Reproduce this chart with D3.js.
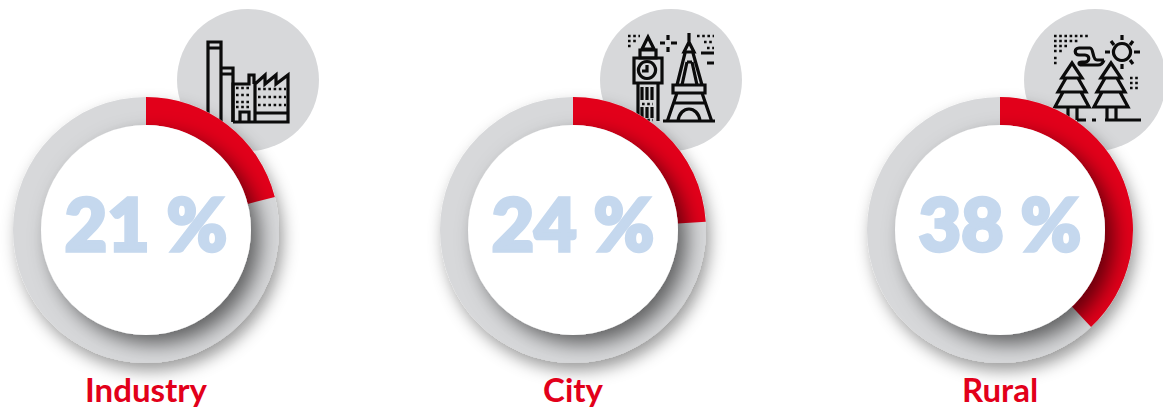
<!doctype html>
<html>
<head>
<meta charset="utf-8">
<title>Industry City Rural</title>
<script src="https://d3js.org/d3.v7.min.js"></script>
<style>
  html, body { margin: 0; padding: 0; background: #fff; }
  svg { display: block; }
  text { font-family: Lato, "Open Sans", sans-serif; text-anchor: middle; }
  .pct { font-size: 73px; font-weight: 900; fill: #c5d8ee; stroke: #c5d8ee; stroke-width: 3.5px; stroke-linejoin: miter; }
  .cat { font-size: 33px; font-weight: 700; fill: #e2001a; }
  .icon path { fill: none; stroke: #0b0b0b; stroke-width: 3.2; stroke-linejoin: miter; }
  .icon .dots { stroke-width: 2.6; stroke-dasharray: 2.6 2.6; }
</style>
</head>
<body>
<script>
var categories = ["Industry", "City", "Rural"];
var percentages = [21, 24, 38];
var iconOffsets = [102, 98, 95];

// icon artwork, traced in page coordinates
var iconPaths = [
  [
    "M208 122V42H221V122M208 48H221",
    "M221 68H233V122M221 74H233",
    "M233 122V84H249V75H254V84M233 122H288V75L276 84V75L265 84V75L255 84V122",
    "M255 113H288",
    "M240 122V112H249V122"
  ],
  [
    "M648 37L642 49H654ZM640 50H656V58H640Z",
    "M634 58H662V83H634ZM638 83V121M658 83V121",
    "M647 61.5a8.5 8.5 0 1 0 .01 0M647 65V71H642",
    "M642 87V100M647 87V100M652 87V100M642 107V118M647 107V118M652 107V118",
    "M689 33V42M684 52L689 42L694 52ZM684 52H694M685 53L677 85M693 53L702 85M687 62H692M687 62L682 85M692 62L697 85",
    "M673 85H705V93H673ZM677 93L667 122M702 93L712 122M663 121H715M678 121C680 105 698 105 700 121M673 103H705",
    "M660 43H665M671 43H677M668 35V40M668 47V52M701 53H714M707 63H714"
  ],
  [
    "M1072 63L1082 78H1078L1086 92H1081L1089 107H1055L1063 92H1058L1066 78H1062ZM1066 78H1078M1063 92H1081M1068 107V120M1077 107V120",
    "M1111 63L1121 78H1117L1125 92H1120L1128 107H1094L1102 92H1097L1105 78H1101ZM1105 78H1117M1102 92H1120M1107 107V120M1116 107V120",
    "M1077 120H1086M1092 120H1096M1105 120H1141",
    "M1122 43.5a8.5 8.5 0 1 0 .01 0M1122 35V40M1122 64V69M1105 52H1110M1134 52H1140M1111 41L1114 45M1133 41L1130 45M1133 64L1130 60",
    "M1104 60H1097C1092 60 1094 48 1090 48H1079C1074 48 1074 55 1079 55H1085C1090 55 1090 62 1085 62H1082C1078 62 1078 65 1082 65H1098C1101 65 1103 63 1104 60"
  ]
];
var iconDots = [
  ["M236 88H251M236 95H251M236 102H251M236 107H251", "M258 89H286M258 97H286M258 105H286"],
  ["M628 36H640M628 41H637M628 46H631", "M697 36H714M704 42H714M707 48H714", "M642 104H653M642 120H653"],
  ["M1054 36H1089M1054 41H1078M1054 46H1068M1054 51H1064M1054 58H1057M1054 63H1057", "M1130 78H1138M1130 83H1138M1130 88H1138"]
];

var width = 1163, height = 410;
var cy = 230, outerR = 133, innerR = 105, iconCy = 80, iconR = 71;

var x = d3.scalePoint().domain(categories).range([146, 1000]);
var angle = d3.scaleLinear().domain([0, 100]).range([0, 2 * Math.PI]);
var arc = d3.arc().innerRadius(innerR).outerRadius(outerR).startAngle(0);

var svg = d3.select("body").append("svg")
  .attr("width", width)
  .attr("height", height);

var defs = svg.append("defs");

var ringShadow = defs.append("filter").attr("id", "ringShadow")
  .attr("x", "-30%").attr("y", "-30%").attr("width", "160%").attr("height", "160%");
ringShadow.append("feDropShadow")
  .attr("dx", 4).attr("dy", 8).attr("stdDeviation", 8)
  .attr("flood-color", "#000").attr("flood-opacity", 0.38);

var discShadow = defs.append("filter").attr("id", "discShadow")
  .attr("x", "-30%").attr("y", "-30%").attr("width", "160%").attr("height", "160%");
discShadow.append("feDropShadow")
  .attr("dx", 9).attr("dy", 9).attr("stdDeviation", 10)
  .attr("flood-color", "#000").attr("flood-opacity", 0.55);

categories.forEach(function(name, i) {
  var cx = x(name);

  svg.append("circle")
    .attr("cx", cx + iconOffsets[i])
    .attr("cy", iconCy)
    .attr("r", iconR)
    .attr("fill", "#d7d8da");

  var icon = svg.append("g").attr("class", "icon");
  iconPaths[i].forEach(function(d) { icon.append("path").attr("d", d); });
  iconDots[i].forEach(function(d) { icon.append("path").attr("class", "dots").attr("d", d); });

  svg.append("circle")
    .attr("cx", cx)
    .attr("cy", cy)
    .attr("r", outerR)
    .attr("fill", "#d7d8da")
    .attr("filter", "url(#ringShadow)");

  svg.append("path")
    .attr("transform", "translate(" + cx + "," + cy + ")")
    .attr("d", arc({ endAngle: angle(percentages[i]) }))
    .attr("fill", "#e2001a");

  svg.append("circle")
    .attr("cx", cx)
    .attr("cy", cy)
    .attr("r", innerR)
    .attr("fill", "#fff")
    .attr("filter", "url(#discShadow)");

  svg.append("text")
    .attr("class", "pct")
    .attr("x", cx)
    .attr("y", 251)
    .text(percentages[i] + " %");

  svg.append("text")
    .attr("class", "cat")
    .attr("x", cx)
    .attr("y", 402)
    .text(name);
});
</script>
</body>
</html>
